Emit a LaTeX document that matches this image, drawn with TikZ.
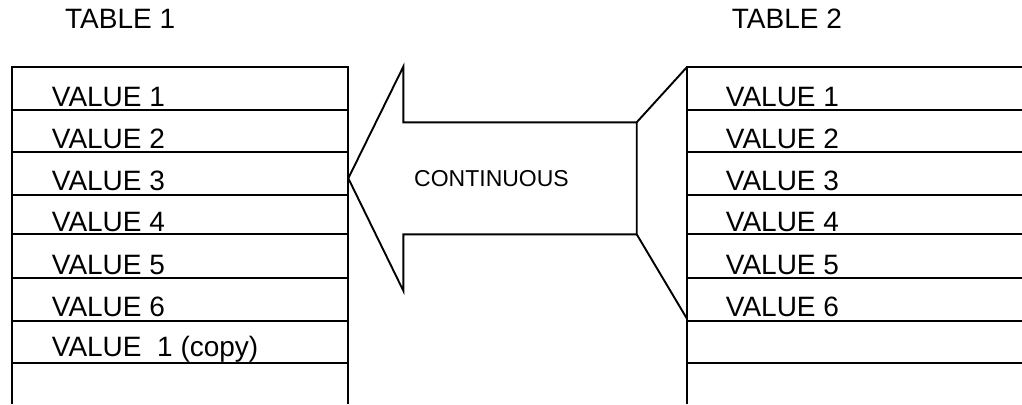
\documentclass[tikz,border=0pt]{standalone}
\usepackage{fontspec}
\setmainfont{Liberation Sans}
\begin{document}
\begin{tikzpicture}[x=1pt,y=-1pt,
  rule/.style={line width=1.9pt,black},
  valtext/.style={anchor=base west,inner sep=0pt,font=\fontsize{28}{31}\selectfont},
  title/.style={anchor=base west,inner sep=0pt,font=\fontsize{28}{31}\selectfont},
  arrowtext/.style={anchor=base west,inner sep=0pt,font=\fontsize{23}{26}\selectfont}]
\useasboundingbox (0,0) rectangle (1022,404);
% titles
\node[title] (t1) at (65,28.3) {TABLE 1};
\node[title] (t2) at (731.7,28.3) {TABLE 2};
% left table
\draw[rule] (11.7,404) -- (11.7,66.7) -- (348.3,66.7) -- (348.3,404);
\foreach \y in {110,152.3,195,234.3,277.7,320.7,363.3}
  \draw[rule] (11.7,\y) -- (348.3,\y);
% right table
\draw[rule] (687.3,404) -- (687.3,66.7) -- (1022,66.7);
\foreach \y in {110,152.3,195,234.3,277.7,320.7,363.3}
  \draw[rule] (687.3,\y) -- (1022,\y);
% values
\node[valtext] (l1) at (51.7,106) {VALUE 1};
\node[valtext] (l2) at (51.7,148.3) {VALUE 2};
\node[valtext] (l3) at (51.7,190.7) {VALUE 3};
\node[valtext] (l4) at (51.7,231.7) {VALUE 4};
\node[valtext] (l5) at (51.7,274) {VALUE 5};
\node[valtext] (l6) at (51.7,316.7) {VALUE 6};
\node[valtext] (l7) at (51.7,356.5) {VALUE\ \ 1 (copy)};
\node[valtext] (r1) at (725.7,106) {VALUE 1};
\node[valtext] (r2) at (725.7,148.3) {VALUE 2};
\node[valtext] (r3) at (725.7,190.7) {VALUE 3};
\node[valtext] (r4) at (725.7,231.7) {VALUE 4};
\node[valtext] (r5) at (725.7,274) {VALUE 5};
\node[valtext] (r6) at (725.7,316.7) {VALUE 6};
% arrow
\coordinate (tip) at (348.3,178.3);
\coordinate (ht) at (403.3,66.7);
\coordinate (hb) at (403.3,290.7);
\coordinate (st) at (403.3,122.3);
\coordinate (sb) at (403.3,234.3);
\coordinate (et) at (636.7,122.3);
\coordinate (eb) at (636.7,234.3);
\coordinate (ft) at (687.3,66.7);
\coordinate (fb) at (687.3,319.3);
\draw[rule,line join=miter] (tip) -- (ht) -- (st) -- (et) -- (eb) -- (sb) -- (hb) -- cycle;
\draw[rule] (et) -- (ft);
\draw[rule] (eb) -- (fb);
\node[arrowtext] (cont) at (414,186.7) {CONTINUOUS};
\end{tikzpicture}
\end{document}
